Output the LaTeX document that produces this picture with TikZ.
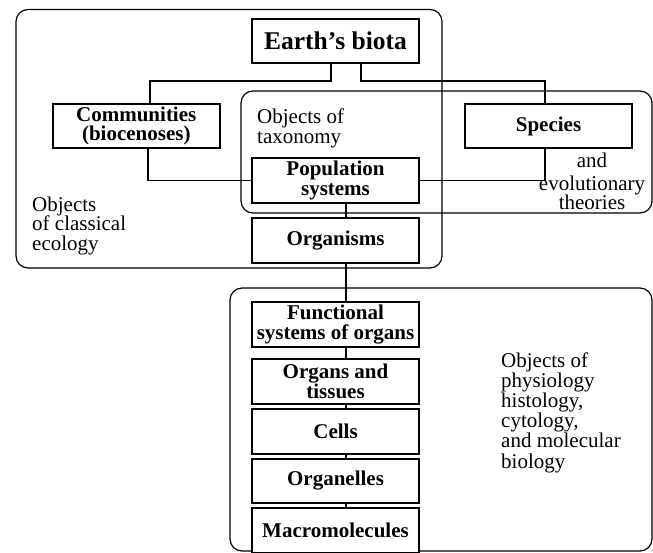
\documentclass[tikz,border=0pt]{standalone}
\usepackage{fontspec}
\setmainfont{Liberation Serif}
\begin{document}
\begin{tikzpicture}[x=1pt,y=-1pt,
  box/.style={draw,line width=2pt,fill=white,minimum width=167pt,minimum height=45pt,inner sep=0pt,align=center,
    font=\bfseries\fontsize{21}{19.5}\selectfont},
  conn/.style={line width=1.7pt},
  thin/.style={line width=1.2pt},
  encl/.style={line width=1.2pt,rounded corners=12pt},
  lbl/.style={inner sep=0pt,align=left,font=\fontsize{21}{19.5}\selectfont}]
\useasboundingbox (0,0) rectangle (653,552);
% enclosures
\draw[encl] (16,9.5) rectangle (442,268);
\draw[encl] (241,91) rectangle (652,213);
\draw[encl] (230,288) rectangle (652,551);
% boxes
\node[box,minimum height=44pt,font=\bfseries\fontsize{25.5}{25}\selectfont] (biota) at (335.5,41) {Earth’s biota};
\node[box,minimum width=166.5pt,minimum height=44pt] (comm) at (136.25,126) {Communities\\(biocenoses)};
\node[box,minimum height=44pt] (species) at (548.5,126) {Species};
\node[box] (pop) at (335.5,180.5) {Population\\systems};
\node[box] (org) at (335.5,240.5) {Organisms};
\node[box] (func) at (335.5,324.5) {Functional\\systems of organs};
\node[box] (organs) at (335.5,381.5) {Organs and\\tissues};
\node[box] (cells) at (335.5,431.5) {Cells};
\node[box,minimum height=44pt] (organelles) at (335.5,481) {Organelles};
\node[box] (macro) at (335.5,530.5) {Macromolecules};
% connectors
\draw[conn] ([xshift=-4.5pt]biota.south) -- ++(0,17) -| ([xshift=14pt]comm.north);
\draw[conn] ([xshift=25.5pt]biota.south) -- ++(0,17) -| ([xshift=-3.5pt]species.north);
\draw[conn] ([xshift=12pt]comm.south) |- (pop.west);
\draw[conn] ([xshift=-3.5pt]species.south) |- (pop.east);
\draw[thin] ([xshift=10.5pt]pop.south) -- ([xshift=10.5pt]org.north);
\draw[thin] ([xshift=10.5pt]org.south) -- ([xshift=10.5pt]func.north);
\draw[thin] ([xshift=10.5pt]func.south) -- ([xshift=10.5pt]organs.north);
\draw[thin] ([xshift=10.5pt]organs.south) -- ([xshift=10.5pt]cells.north);
\draw[thin] ([xshift=10.5pt]cells.south) -- ([xshift=10.5pt]organelles.north);
\draw[thin] ([xshift=10.5pt]organelles.south) -- ([xshift=10.5pt]macro.north);
% labels (anchor base = baseline of last line)
\node[lbl,anchor=base west] (taxlbl) at (257,143) {Objects of\\taxonomy};
\node[lbl,anchor=base west] (ecollbl) at (32,250) {Objects\\of classical\\ecology};
\node[lbl,anchor=base,align=center] (evollbl) at (592,209) {and\\[3pt]evolutionary\\[-0.5pt]theories};
\node[lbl,anchor=base west,font=\fontsize{21}{20.2}\selectfont] (physlbl) at (501,468) {Objects of\\physiology\\histology,\\cytology,\\and molecular\\biology};
\end{tikzpicture}
\end{document}
